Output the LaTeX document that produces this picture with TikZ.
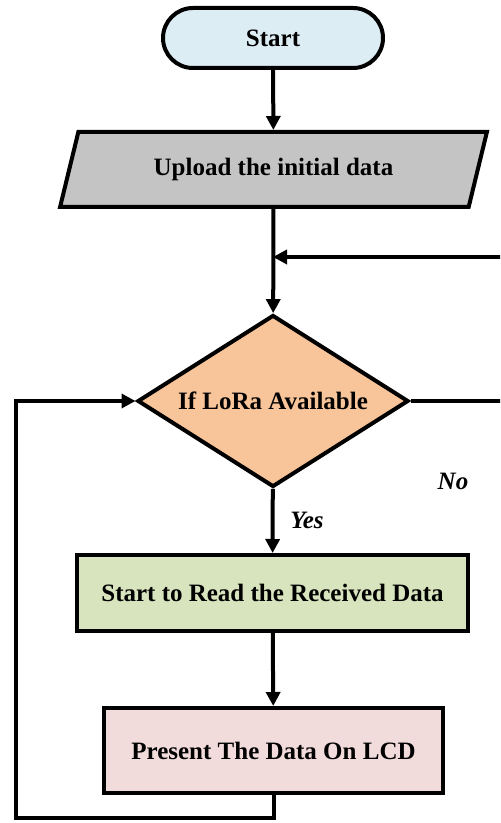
\documentclass[tikz,border=0pt]{standalone}
\usepackage{fontspec}
\setmainfont{Liberation Serif}
\usetikzlibrary{shapes.geometric,shapes.misc,arrows.meta,positioning}
\definecolor{startBlue}{RGB}{220,237,244}
\definecolor{uploadGray}{RGB}{196,196,196}
\definecolor{decisionOrange}{RGB}{248,196,154}
\definecolor{readGreen}{RGB}{216,228,190}
\definecolor{lcdPink}{RGB}{242,220,219}
\begin{document}
\begin{tikzpicture}
[x=0.5pt,y=-0.5pt,
  font=\fontsize{12.5}{15}\selectfont\bfseries,
  lineDecorate/.style={line width=2pt},
  arrowDecorate/.style={lineDecorate,-{Triangle[length=7pt,width=7pt]}},
  boxDecorate/.style={draw,line width=2pt,inner sep=0pt},
  labelDecorate/.style={font=\fontsize{12.5}{15}\selectfont\bfseries\itshape}]
\clip (0,0) rectangle (500,823);
%% nodes
\node (start) at (273,38) [boxDecorate,rounded rectangle,fill=startBlue,
  minimum width=110pt,minimum height=30pt] {Start};
\node (upload) at (273.5,169.5) [boxDecorate,trapezium,fill=uploadGray,
  trapezium left angle=63.7,trapezium right angle=116.3,trapezium stretches=true,
  minimum width=213.5pt,minimum height=37.5pt] {Upload the initial data};
\node (decision) at (273,401) [boxDecorate,diamond,fill=decisionOrange,aspect=1.58,
  minimum width=135.5pt,minimum height=86pt] {If LoRa Available};
\node (read) at (272.5,593) [boxDecorate,rectangle,fill=readGreen,
  minimum width=195.5pt,minimum height=38pt] {Start to Read the Received Data};
\node (lcd) at (273.5,750.5) [boxDecorate,rectangle,fill=lcdPink,
  minimum width=169.5pt,minimum height=42.5pt] {Present The Data On LCD};
\node (yes) at (307,520) [labelDecorate] {Yes};
\node (no) at (453,481) [labelDecorate] {No};
\coordinate (mergePt) at (273,257);
\coordinate (noTurn) at (530,257);
\coordinate (loopBL) at (16,818);
%% edges
\path
\foreach \startnode/\endnode in {start/upload, upload/decision, decision/read, read/lcd}
{
  (\startnode) edge[arrowDecorate] (\endnode)
};
\draw[arrowDecorate] (decision.east) -| (noTurn) -- (mergePt);
\draw[arrowDecorate] (lcd.south) |- (loopBL) |- (decision.west);
\end{tikzpicture}
\end{document}
